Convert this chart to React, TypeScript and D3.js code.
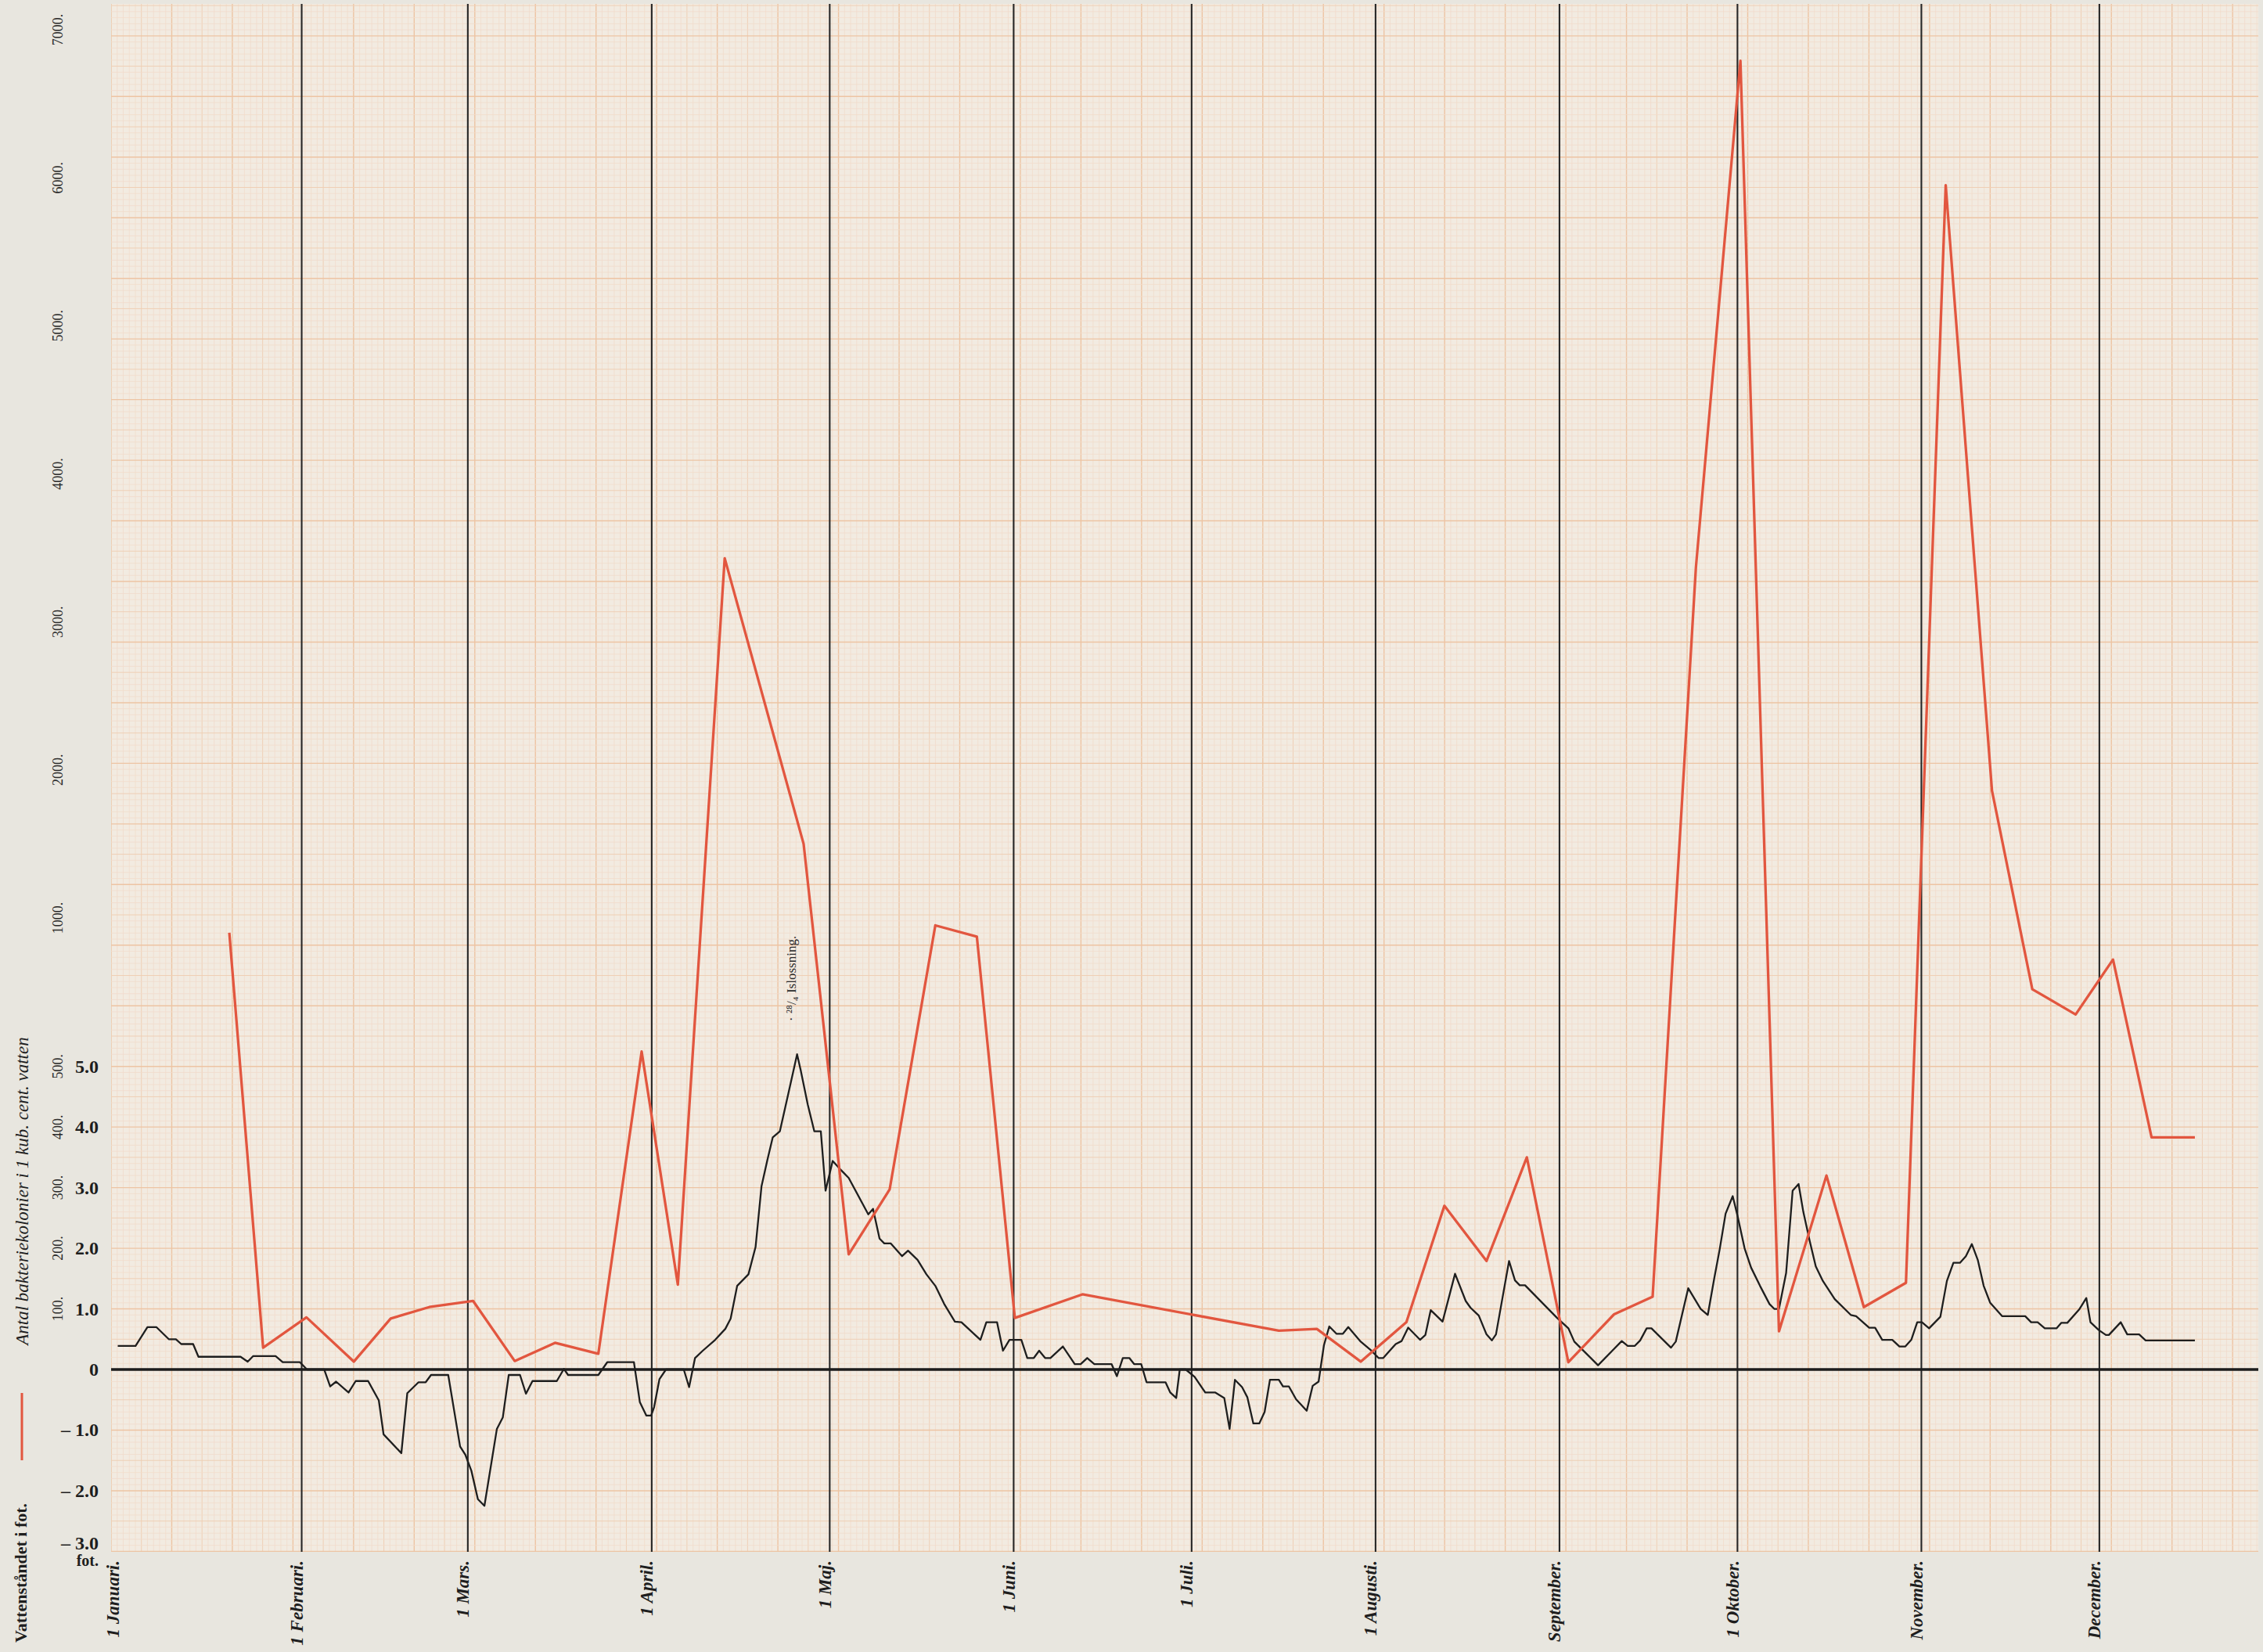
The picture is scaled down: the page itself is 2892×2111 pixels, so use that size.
import React from "react";
import * as d3 from "d3";

// ---- data ----
const monthLabels = [
  "1 Januari.", "1 Februari.", "1 Mars.", "1 April.", "1 Maj.", "1 Juni.",
  "1 Juli.", "1 Augusti.", "September.", "1 Oktober.", "November.", "December.",
];
const monthStartDays = [0, 31, 59, 90, 120, 151, 181, 212, 243, 273, 304, 334];

// water level (fot), day of year
const waterDays = [
  0, 3, 5, 6.5, 8.6, 9.8, 10.7, 12.7, 13.6, 20.7, 21.9, 22.8, 26.6, 27.8, 30.7, 31.9, 34.8,
  35.8, 36.8, 38.9, 40.1, 42.2, 44, 44.8, 47.8, 48.8, 50.7, 51.9, 52.8, 55.7, 57.7, 58.6,
  59.6, 60.7, 61.8, 63.9, 64.9, 65.9, 67.8, 68.8, 69.9, 74, 75.2, 75.9, 81, 82.5, 87,
  88, 89.1, 89.9, 90.4, 91.3, 92.4, 95.4, 96.3, 97.3, 98.6, 100.7, 102.4, 103.3, 104.4,
  106.3, 107.5, 108.5, 109.5, 110.4, 111.6, 113, 114.5, 115.1, 116.3, 117.4, 118.5, 119.3,
  120.5, 121.9, 123.2, 126.5, 127.3, 128.4, 129.2, 130.3, 132.2, 133.2, 134.8, 136.3,
  137.8, 139.3, 141.1, 142.2, 145.4, 146.4, 148.2, 149.2, 150.3, 152.3, 153.3, 154.4,
  155.3, 156.3, 157.2, 159.3, 161.3, 162.3, 163.4, 164.6, 167.5, 168.4, 169.4, 170.5,
  171.3, 172.5, 173.4, 176.6, 177.4, 178.4, 179, 180, 181.5, 183.3, 185, 186.5, 187.4,
  188.3, 189.5, 190.4, 191.4, 192.4, 193.3, 194.2, 195.7, 196.4, 197.4, 198.6, 200.4,
  201.4, 202.4, 203.3, 204.2, 205.4, 206.5, 207.4, 209.5, 211.3, 212.5, 213.3, 215.4,
  216.4, 217.5, 219.5, 220.4, 221.3, 223.3, 225.4, 227.2, 228, 229.4, 230.7, 231.6, 232.3,
  234.5, 235.5, 236.3, 237.2, 242.6, 244.5, 245.5, 249.5, 251.9, 253.5, 254.5, 255.7,
  256.6, 257.7, 258.5, 261.8, 262.6, 264.7, 266.8, 268, 269.1, 270, 271, 272.2, 273,
  274.2, 275.3, 276.8, 278.4, 279.2, 280, 281.2, 282.3, 283.3, 284.1, 285.2, 286.2, 287.4,
  289.4, 292.1, 293, 295.2, 296.2, 297.4, 299.1, 300.3, 301.3, 302.3, 303.3, 304.1, 305.3,
  307.2, 308.3, 309.4, 310.5, 311.5, 312.5, 313.5, 314.5, 315.6, 317.6, 321.5, 322.5,
  323.6, 324.8, 326.8, 327.6, 328.6, 330.6, 331.8, 332.5, 333.9, 335.1, 335.6, 337.6,
  338.7, 340.7, 341.8, 350.1,
];
const waterLevels = [
  0.39, 0.39, 0.7, 0.7, 0.5, 0.5, 0.42, 0.42, 0.21, 0.21, 0.13, 0.22, 0.22, 0.12, 0.12, 0, 0,
  -0.28, -0.2, -0.38, -0.19, -0.19, -0.51, -1.07, -1.38, -0.39, -0.21, -0.21, -0.09, -0.09, -1.27, -1.41,
  -1.67, -2.14, -2.25, -0.98, -0.79, -0.09, -0.09, -0.4, -0.19, -0.19, 0.01, -0.09, -0.09, 0.12, 0.12,
  -0.54, -0.76, -0.76, -0.62, -0.16, 0, 0, -0.29, 0.19, 0.31, 0.49, 0.67, 0.84, 1.38,
  1.57, 2.02, 3.02, 3.46, 3.83, 3.93, 4.54, 5.2, 4.94, 4.37, 3.93, 3.93, 2.95,
  3.44, 3.29, 3.16, 2.56, 2.65, 2.16, 2.08, 2.08, 1.87, 1.96, 1.81, 1.57,
  1.38, 1.08, 0.79, 0.78, 0.49, 0.78, 0.78, 0.31, 0.49, 0.49, 0.19, 0.19,
  0.31, 0.19, 0.19, 0.38, 0.09, 0.09, 0.19, 0.09, 0.09, -0.11, 0.19, 0.19,
  0.09, 0.09, -0.21, -0.21, -0.38, -0.47, 0, 0, -0.12, -0.38, -0.38, -0.47, -0.98,
  -0.17, -0.29, -0.46, -0.89, -0.89, -0.7, -0.17, -0.17, -0.28, -0.28, -0.49, -0.68,
  -0.27, -0.2, 0.4, 0.71, 0.59, 0.59, 0.7, 0.46, 0.31, 0.19, 0.19, 0.42,
  0.47, 0.69, 0.49, 0.57, 0.98, 0.79, 1.58, 1.13, 1.02, 0.89, 0.58, 0.48, 0.58,
  1.79, 1.47, 1.39, 1.39, 0.85, 0.68, 0.46, 0.07, 0.31, 0.47, 0.39, 0.39,
  0.48, 0.68, 0.68, 0.36, 0.46, 1.34, 1.0, 0.9, 1.51, 1.98, 2.57, 2.86, 2.54,
  2.0, 1.68, 1.38, 1.08, 1.0, 1.0, 1.59, 2.95, 3.06, 2.6, 2.11, 1.7, 1.46,
  1.16, 0.9, 0.88, 0.69, 0.69, 0.49, 0.49, 0.38, 0.38, 0.49, 0.78, 0.78, 0.68,
  0.87, 1.46, 1.76, 1.76, 1.87, 2.07, 1.81, 1.38, 1.1, 0.88, 0.88, 0.78,
  0.78, 0.68, 0.68, 0.77, 0.77, 0.99, 1.18, 0.78, 0.65, 0.57, 0.57, 0.78,
  0.58, 0.58, 0.48, 0.48,
];

// bacteria colonies per cubic centimetre, day of year
const bacteriaDays = [
  18.8, 24.5, 31.8, 39.8, 46, 52.5, 59.9, 66.9, 73.7, 81, 88.3, 94.4, 102.3, 115.6, 123.2,
  130.1, 137.8, 144.8, 151.2, 162.6, 195.7, 202.1, 209.5, 217.2, 223.6, 230.7, 237.5,
  244.5, 252.2, 258.7, 266, 273.5, 280, 288, 294.3, 301.4, 308.1, 315.9, 322.7, 330,
  336.3, 342.8, 350.1,
];
const bacteriaCounts = [
  950, 36, 86, 13, 84, 103, 113, 14, 44, 26, 550, 140, 3430, 1500, 190,
  297, 975, 937, 85, 124, 64, 67, 13, 78, 270, 179, 350,
  12, 91, 120, 3370, 6790, 63, 320, 103, 143, 5950, 1860, 760, 675,
  860, 383, 383,
];

const waterTickValues = [5, 4, 3, 2, 1, 0, -1, -2, -3];
const waterTickLabels = ["5.0", "4.0", "3.0", "2.0", "1.0", "0", "\u2013 1.0", "\u2013 2.0", "\u2013 3.0"];
const bacteriaTickValues = [100, 200, 300, 400, 500, 1000, 2000, 3000, 4000, 5000, 6000, 7000];

const W = 2892;
const H = 2111;
const PLOT = { left: 142, right: 2886, top: 5, bottom: 1983 };
const SERIF = "'Liberation Serif', 'DejaVu Serif', serif";
const RED = "#e2563f";

export default function App() {
  const x = d3.scaleLinear().domain([0, 365]).range([150.5, 150.5 + 365 * 7.582]);
  const yW = d3.scaleLinear().domain([-3, 5]).range([1982.4, 1362.7]);
  const yB = d3.scaleLinear().domain([0, 500, 1000, 7000]).range([1750, 1362.7, 1173, 38]);

  const cell = (yW(0) - yW(1)) / 10;
  const vLines = d3.range(0, Math.floor((PLOT.right - PLOT.left) / cell) + 1);
  const hUp = Math.floor((yW(0) - PLOT.top) / cell);
  const hDown = Math.floor((PLOT.bottom - yW(0)) / cell);
  const hLines = d3.range(-hUp, hDown + 1);

  const waterData = waterDays.map((d, i) => [d, waterLevels[i]] as [number, number]);
  const bactData = bacteriaDays.map((d, i) => [d, bacteriaCounts[i]] as [number, number]);

  const waterLine = d3.line<[number, number]>().x((d) => x(d[0])).y((d) => yW(d[1]));
  const bactLine = d3.line<[number, number]>().x((d) => x(d[0])).y((d) => yB(d[1]));

  const gridStroke = (k: number) =>
    k % 10 === 0
      ? { s: "#edc4a3", w: 1.4 }
      : k % 5 === 0
      ? { s: "#efcfb5", w: 1.0 }
      : { s: "#f1dccb", w: 0.8 };

  return (
    <svg
      width={W}
      height={H}
      viewBox={`0 0 ${W} ${H}`}
      style={{ position: "absolute", left: 0, top: 0, display: "block" }}
    >
      <defs>
        <clipPath id="plotClip">
          <rect x={PLOT.left} y={PLOT.top} width={PLOT.right - PLOT.left} height={PLOT.bottom - PLOT.top} />
        </clipPath>
      </defs>
      <rect x={0} y={0} width={W} height={H} fill="#e8e6df" />
      <rect
        x={PLOT.left}
        y={PLOT.top}
        width={PLOT.right - PLOT.left}
        height={PLOT.bottom - PLOT.top}
        fill="#f2ebe1"
      />
      {/* graph paper */}
      <g clipPath="url(#plotClip)">
        {vLines.map((k) => {
          const g = gridStroke(k);
          const xx = PLOT.left + k * cell;
          return <line key={"v" + k} x1={xx} x2={xx} y1={PLOT.top} y2={PLOT.bottom} stroke={g.s} strokeWidth={g.w} />;
        })}
        {hLines.map((k) => {
          const g = gridStroke(Math.abs(k));
          const yy = yW(0) + k * cell;
          return <line key={"h" + k} x1={PLOT.left} x2={PLOT.right} y1={yy} y2={yy} stroke={g.s} strokeWidth={g.w} />;
        })}
      </g>

      {/* month lines */}
      <g clipPath="url(#plotClip)">
        {monthStartDays.slice(1).map((d) => (
          <line key={"m" + d} x1={x(d)} x2={x(d)} y1={PLOT.top} y2={PLOT.bottom} stroke="#262626" strokeWidth={2.1} />
        ))}
        {/* zero line */}
        <line x1={PLOT.left} x2={PLOT.right} y1={yW(0)} y2={yW(0)} stroke="#1c1c1c" strokeWidth={3.4} />
        {/* water level */}
        <path d={waterLine(waterData) || ""} fill="none" stroke="#1e1e1e" strokeWidth={2.3} strokeLinejoin="round" />
        {/* bacteria */}
        <path d={bactLine(bactData) || ""} fill="none" stroke={RED} strokeWidth={3.3} strokeLinejoin="round" />
      </g>

      {/* annotation */}
      <text
        transform={`translate(${x(113.6)},${yW(6.45)}) rotate(-90)`}
        textAnchor="middle"
        dominantBaseline="central"
        fontFamily={SERIF}
        fontSize={17}
        fill="#2a2a2a"
      >
        {"\u00B7 \u00B2\u2078/\u2084 Islossning."}
      </text>

      {/* bacteria tick labels */}
      {bacteriaTickValues.map((v) => (
        <text
          key={"b" + v}
          transform={`translate(${74},${yB(v)}) rotate(-90)`}
          textAnchor="middle"
          dominantBaseline="central"
          fontFamily={SERIF}
          fontSize={18}
          fill="#2a2a2a"
        >
          {v + "."}
        </text>
      ))}

      {/* water tick labels */}
      {waterTickValues.map((v, i) => (
        <text
          key={"w" + v}
          x={126}
          y={v === -3 ? yW(v) - 10 : yW(v)}
          textAnchor="end"
          dominantBaseline="central"
          fontFamily={SERIF}
          fontWeight="bold"
          fontSize={24}
          fill="#1e1e1e"
        >
          {waterTickLabels[i]}
        </text>
      ))}
      <text x={126} y={yW(-3) + 12} textAnchor="end" dominantBaseline="central" fontFamily={SERIF} fontWeight="bold" fontSize={20} fill="#1e1e1e">
        fot.
      </text>

      {/* axis titles & legend */}
      <text
        transform={`translate(${28},${1522}) rotate(-90)`}
        textAnchor="middle"
        dominantBaseline="central"
        fontFamily={SERIF}
        fontStyle="italic"
        fontSize={23}
        fill="#1e1e1e"
      >
        Antal bakteriekolonier i 1 kub. cent. vatten
      </text>
      <line x1={28} x2={28} y1={1780} y2={1866} stroke={RED} strokeWidth={3} />
      <text
        transform={`translate(${26},${2010}) rotate(-90)`}
        textAnchor="middle"
        dominantBaseline="central"
        fontFamily={SERIF}
        fontWeight="bold"
        fontSize={22}
        fill="#1e1e1e"
      >
        Vattenståndet i fot.
      </text>

      {/* month labels */}
      {monthStartDays.map((d, i) => (
        <text
          key={"ml" + d}
          transform={`translate(${x(d) - 6},${1994}) rotate(-90)`}
          textAnchor="end"
          dominantBaseline="central"
          fontFamily={SERIF}
          fontStyle="italic"
          fontWeight="bold"
          fontSize={23}
          fill="#1e1e1e"
        >
          {monthLabels[i]}
        </text>
      ))}
    </svg>
  );
}
